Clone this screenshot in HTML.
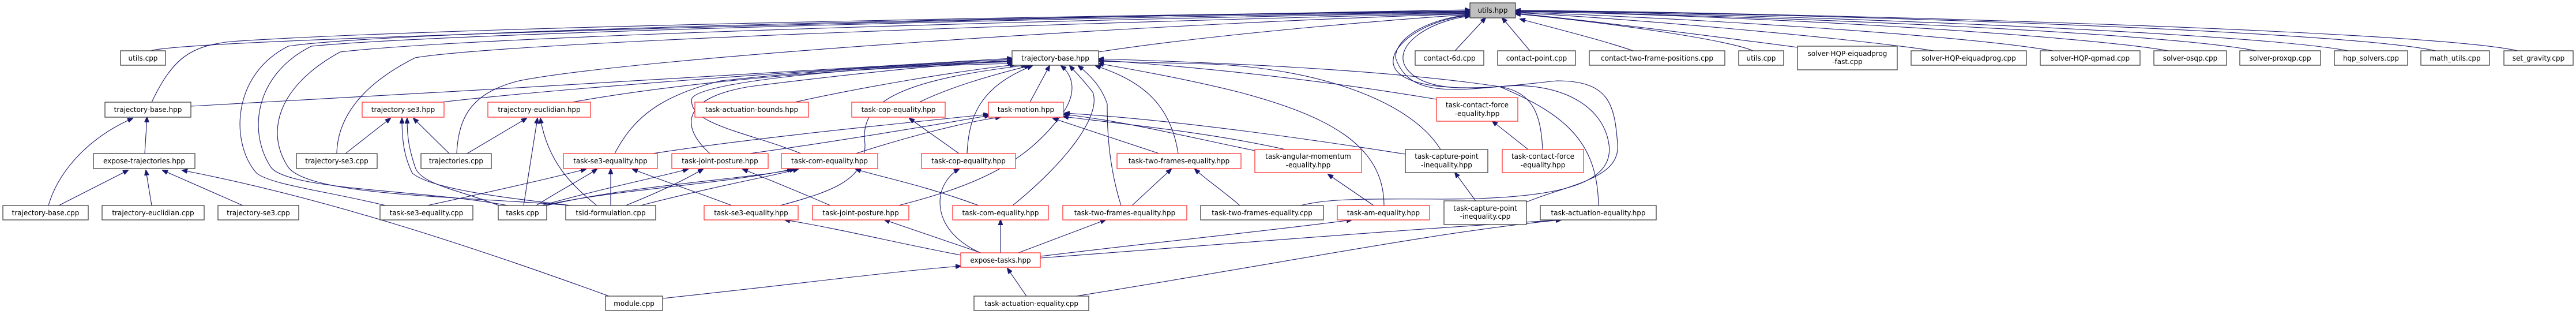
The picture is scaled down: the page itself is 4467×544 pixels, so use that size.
<!DOCTYPE html>
<html><head><meta charset="utf-8"><style>
html,body{margin:0;padding:0;background:#fff;}
svg{display:block;}
text{font-family:"DejaVu Sans","Liberation Sans",sans-serif;font-size:12px;fill:#000;}
.e{fill:none;stroke:#191970;stroke-width:1.1;marker-end:url(#ah);}
.k{fill:#fff;stroke:#404040;stroke-width:1.3;}
.r{fill:#fff;stroke:#ff3333;stroke-width:1.3;}
.g{fill:#bfbfbf;stroke:#404040;stroke-width:1.3;}
</style></head><body>
<svg width="4467" height="544" viewBox="0 0 4467 544" xmlns="http://www.w3.org/2000/svg">
<defs><marker id="ah" markerWidth="10" markerHeight="8" refX="9" refY="4" orient="auto" markerUnits="userSpaceOnUse"><path d="M0,0 L10,4 L0,8 Z" fill="#191970" stroke="#191970"/></marker></defs>
<g>
<!-- to utils.hpp -->
<path class="e" d="M262,88 C320,66 1800,30 2549,17"/>
<path class="e" d="M263,177 C300,100 330,80 400,72 C800,45 2000,25 2549,19"/>
<path class="e" d="M669,356 C560,330 470,320 445,300 C400,250 400,130 500,80 C700,50 2000,25 2549,20"/>
<path class="e" d="M880,356 C750,330 500,330 470,290 C430,230 440,130 540,80 C800,55 2000,27 2549,21"/>
<path class="e" d="M990,356 C800,340 540,340 500,290 C460,230 480,150 590,90 C850,60 2000,30 2549,22"/>
<path class="e" d="M584,266 C585,210 620,150 720,100 C900,70 2000,35 2549,23"/>
<path class="e" d="M792,266 C795,200 820,160 900,140 C1100,100 2000,40 2549,24"/>
<path class="e" d="M1905,90 C2100,60 2400,35 2549,25"/>
<path class="e" d="M2255,356 C2300,345 2350,344 2500,345 C2700,345 2800,320 2790,250 C2780,180 2700,140 2600,150 C2450,160 2400,130 2420,90 C2440,55 2500,30 2549,27"/>
<path class="e" d="M2647,350 C2720,320 2810,310 2805,250 C2800,180 2790,140 2700,140 C2600,150 2480,170 2440,120 C2410,80 2480,35 2549,28"/>
<path class="e" d="M2675,259 C2672,200 2660,160 2600,150 C2500,160 2440,160 2420,100 C2420,60 2490,30 2549,26"/>
<path class="e" d="M2523,88 L2576,31"/>
<path class="e" d="M2653,88 L2605,31"/>
<path class="e" d="M2832,88 C2780,70 2700,50 2636,33"/>
<path class="e" d="M3040,88 C3000,70 2800,40 2628,24"/>
<path class="e" d="M3117,82 C2950,60 2750,35 2628,23"/>
<path class="e" d="M3354,88 C3200,65 2800,30 2628,22"/>
<path class="e" d="M3560,88 C3400,60 2900,30 2628,21"/>
<path class="e" d="M3760,88 C3600,60 3000,25 2628,20"/>
<path class="e" d="M3912,88 C3750,55 3000,25 2628,20"/>
<path class="e" d="M4072,88 C3900,55 3000,22 2628,19"/>
<path class="e" d="M4224,88 C4050,50 3000,20 2628,19"/>
<path class="e" d="M4366,88 C4200,50 3000,20 2628,18"/>
<!-- to trajectory-base main -->
<path class="e" d="M331,184 C800,160 1400,120 1755,101"/>
<path class="e" d="M765,177 C1000,150 1500,115 1755,103"/>
<path class="e" d="M992,177 C1200,140 1500,115 1757,110"/>
<path class="e" d="M1378,177 C1500,150 1650,125 1760,112"/>
<path class="e" d="M1066,266 C1100,200 1150,165 1250,140 C1450,118 1650,110 1755,105"/>
<path class="e" d="M1231,266 C1180,220 1180,170 1300,150 C1500,125 1650,110 1755,106"/>
<path class="e" d="M1389,266 C1300,230 1190,215 1200,170 C1220,140 1500,115 1755,107"/>
<path class="e" d="M1353,356 C1450,330 1500,310 1500,250 C1490,180 1550,140 1780,113"/>
<path class="e" d="M1558,356 C1700,320 1780,280 1840,200 C1870,160 1860,130 1840,114"/>
<path class="e" d="M1756,356 C1850,280 1910,200 1895,160 C1880,140 1865,125 1855,114"/>
<path class="e" d="M1944,356 C1920,280 1920,210 1920,180 C1910,150 1890,130 1870,114"/>
<path class="e" d="M2043,266 C2030,180 1980,140 1900,114"/>
<path class="e" d="M1677,266 C1680,200 1700,150 1790,114"/>
<path class="e" d="M1594,177 C1650,150 1720,130 1785,114"/>
<path class="e" d="M1786,177 L1820,114"/>
<path class="e" d="M2400,356 C2400,250 2300,200 2150,160 C2050,135 1950,118 1905,110"/>
<path class="e" d="M2498,259 C2450,180 2300,120 2100,111 L1905,106"/>
<path class="e" d="M2491,172 C2300,140 2100,118 1905,104"/>
<path class="e" d="M2772,356 C2770,250 2720,200 2600,150 C2400,120 2100,108 1905,102"/>
<!-- to task-motion -->
<path class="e" d="M1132,266 C1300,240 1500,220 1714,198"/>
<path class="e" d="M1300,266 C1450,245 1600,220 1716,200"/>
<path class="e" d="M1484,266 C1580,235 1680,210 1735,203"/>
<path class="e" d="M2010,266 L1826,205"/>
<path class="e" d="M2229,259 C2100,230 1950,215 1844,202"/>
<path class="e" d="M2176,261 C2050,235 1950,210 1844,198"/>
<path class="e" d="M2437,267 C2200,230 2000,205 1846,196"/>
<!-- row links -->
<path class="e" d="M741,356 C860,330 950,310 1016,293"/>
<path class="e" d="M930,356 C970,330 1010,310 1035,293"/>
<path class="e" d="M1059,356 L1059,293"/>
<path class="e" d="M1269,356 C1200,330 1140,310 1097,293"/>
<path class="e" d="M939,356 C1050,325 1150,305 1193,293"/>
<path class="e" d="M1085,356 C1150,330 1190,310 1219,293"/>
<path class="e" d="M1440,356 C1380,330 1330,310 1288,293"/>
<path class="e" d="M944,356 C1050,330 1250,320 1374,293"/>
<path class="e" d="M948,356 C1100,320 1300,310 1378,293"/>
<path class="e" d="M1111,356 C1250,320 1340,305 1384,293"/>
<path class="e" d="M1697,356 C1600,320 1520,305 1484,293"/>
<path class="e" d="M1663,266 L1577,205"/>
<path class="e" d="M1963,356 L2031,293"/>
<path class="e" d="M2150,356 C2120,330 2090,310 2072,293"/>
<path class="e" d="M2382,356 L2303,302"/>
<path class="e" d="M2559,348 L2523,299"/>
<path class="e" d="M2650,259 L2588,210"/>
<!-- left -->
<path class="e" d="M251,266 L255,203"/>
<path class="e" d="M84,356 C100,300 150,240 230,205"/>
<path class="e" d="M102,356 L222,295"/>
<path class="e" d="M263,356 L253,295"/>
<path class="e" d="M421,356 L282,295"/>
<path class="e" d="M1056,513 C800,420 550,340 316,295"/>
<path class="e" d="M599,266 L677,205"/>
<path class="e" d="M779,266 L717,205"/>
<path class="e" d="M810,266 L913,205"/>
<path class="e" d="M908,356 L932,205"/>
<path class="e" d="M1035,356 C990,320 950,280 937,205"/>
<path class="e" d="M865,356 C800,330 730,320 720,290 C710,260 706,240 706,205"/>
<path class="e" d="M990,356 C900,345 750,330 715,300 C700,270 697,240 697,205"/>
<!-- expose-tasks -->
<path class="e" d="M1666,442 C1550,420 1450,395 1361,381"/>
<path class="e" d="M1701,438 L1534,381"/>
<path class="e" d="M1700,438 C1660,420 1630,390 1630,350 C1630,320 1650,300 1663,293"/>
<path class="e" d="M1735,438 L1735,381"/>
<path class="e" d="M1766,438 L1917,381"/>
<path class="e" d="M1804,444 C2000,420 2200,400 2344,381"/>
<path class="e" d="M1804,447 C2100,425 2400,400 2707,381"/>
<path class="e" d="M1149,517 C1400,490 1550,470 1666,461"/>
<path class="e" d="M1780,513 L1747,465"/>
<path class="e" d="M1866,513 C2200,460 2500,400 2707,381"/>
</g>
<g>
<!-- nodes -->
<rect class="g" x="2549" y="5" width="79" height="26"/><text x="2588.5" y="22" text-anchor="middle">utils.hpp</text>

<rect class="k" x="209" y="88" width="78" height="25"/><text x="248" y="105" text-anchor="middle">utils.cpp</text>
<rect class="k" x="1755" y="88" width="150" height="25"/><text x="1830" y="105" text-anchor="middle">trajectory-base.hpp</text>
<rect class="k" x="2454" y="88" width="119" height="25"/><text x="2513.5" y="105" text-anchor="middle">contact-6d.cpp</text>
<rect class="k" x="2597" y="88" width="135" height="25"/><text x="2664.5" y="105" text-anchor="middle">contact-point.cpp</text>
<rect class="k" x="2756" y="88" width="235" height="25"/><text x="2873.5" y="105" text-anchor="middle">contact-two-frame-positions.cpp</text>
<rect class="k" x="3015" y="88" width="78" height="25"/><text x="3054" y="105" text-anchor="middle">utils.cpp</text>
<rect class="k" x="3117" y="80" width="173" height="41"/><text x="3203.5" y="97" text-anchor="middle">solver-HQP-eiquadprog</text><text x="3203.5" y="111" text-anchor="middle">-fast.cpp</text>
<rect class="k" x="3314" y="88" width="200" height="25"/><text x="3414" y="105" text-anchor="middle">solver-HQP-eiquadprog.cpp</text>
<rect class="k" x="3538" y="88" width="173" height="25"/><text x="3624.5" y="105" text-anchor="middle">solver-HQP-qpmad.cpp</text>
<rect class="k" x="3735" y="88" width="126" height="25"/><text x="3798" y="105" text-anchor="middle">solver-osqp.cpp</text>
<rect class="k" x="3884" y="88" width="140" height="25"/><text x="3954" y="105" text-anchor="middle">solver-proxqp.cpp</text>
<rect class="k" x="4048" y="88" width="127" height="25"/><text x="4111.5" y="105" text-anchor="middle">hqp_solvers.cpp</text>
<rect class="k" x="4198" y="88" width="119" height="25"/><text x="4257.5" y="105" text-anchor="middle">math_utils.cpp</text>
<rect class="k" x="4342" y="88" width="120" height="25"/><text x="4402" y="105" text-anchor="middle">set_gravity.cpp</text>

<rect class="k" x="182" y="177" width="149" height="26"/><text x="256.5" y="194" text-anchor="middle">trajectory-base.hpp</text>
<rect class="r" x="628" y="177" width="142" height="26"/><text x="699" y="194" text-anchor="middle">trajectory-se3.hpp</text>
<rect class="r" x="846" y="177" width="178" height="26"/><text x="935" y="194" text-anchor="middle">trajectory-euclidian.hpp</text>
<rect class="r" x="1205" y="177" width="197" height="26"/><text x="1303.5" y="194" text-anchor="middle">task-actuation-bounds.hpp</text>
<rect class="r" x="1477" y="177" width="162" height="26"/><text x="1558" y="194" text-anchor="middle">task-cop-equality.hpp</text>
<rect class="r" x="1714" y="177" width="130" height="26"/><text x="1779" y="194" text-anchor="middle">task-motion.hpp</text>
<rect class="r" x="2491" y="169" width="141" height="41"/><text x="2561.5" y="186" text-anchor="middle">task-contact-force</text><text x="2561.5" y="201" text-anchor="middle">-equality.hpp</text>

<rect class="k" x="162" y="266" width="176" height="26"/><text x="250" y="283" text-anchor="middle">expose-trajectories.hpp</text>
<rect class="k" x="514" y="266" width="140" height="26"/><text x="584" y="283" text-anchor="middle">trajectory-se3.cpp</text>
<rect class="k" x="730" y="266" width="122" height="26"/><text x="791" y="283" text-anchor="middle">trajectories.cpp</text>
<rect class="r" x="977" y="266" width="163" height="26"/><text x="1058.5" y="283" text-anchor="middle">task-se3-equality.hpp</text>
<rect class="r" x="1165" y="266" width="167" height="26"/><text x="1248.5" y="283" text-anchor="middle">task-joint-posture.hpp</text>
<rect class="r" x="1355" y="266" width="167" height="26"/><text x="1438.5" y="283" text-anchor="middle">task-com-equality.hpp</text>
<rect class="r" x="1598" y="266" width="163" height="26"/><text x="1679.5" y="283" text-anchor="middle">task-cop-equality.hpp</text>
<rect class="r" x="1937" y="266" width="215" height="26"/><text x="2044.5" y="283" text-anchor="middle">task-two-frames-equality.hpp</text>
<rect class="r" x="2176" y="259" width="185" height="40"/><text x="2268.5" y="275" text-anchor="middle">task-angular-momentum</text><text x="2268.5" y="290" text-anchor="middle">-equality.hpp</text>
<rect class="k" x="2437" y="259" width="143" height="40"/><text x="2508.5" y="275" text-anchor="middle">task-capture-point</text><text x="2508.5" y="290" text-anchor="middle">-inequality.hpp</text>
<rect class="r" x="2605" y="259" width="141" height="40"/><text x="2675.5" y="275" text-anchor="middle">task-contact-force</text><text x="2675.5" y="290" text-anchor="middle">-equality.hpp</text>

<rect class="k" x="5" y="356" width="148" height="25"/><text x="79" y="373" text-anchor="middle">trajectory-base.cpp</text>
<rect class="k" x="177" y="356" width="177" height="25"/><text x="265.5" y="373" text-anchor="middle">trajectory-euclidian.cpp</text>
<rect class="k" x="378" y="356" width="140" height="25"/><text x="448" y="373" text-anchor="middle">trajectory-se3.cpp</text>
<rect class="k" x="659" y="356" width="161" height="25"/><text x="739.5" y="373" text-anchor="middle">task-se3-equality.cpp</text>
<rect class="k" x="864" y="356" width="84" height="25"/><text x="906" y="373" text-anchor="middle">tasks.cpp</text>
<rect class="k" x="981" y="356" width="156" height="25"/><text x="1059" y="373" text-anchor="middle">tsid-formulation.cpp</text>
<rect class="r" x="1221" y="356" width="163" height="25"/><text x="1302.5" y="373" text-anchor="middle">task-se3-equality.hpp</text>
<rect class="r" x="1409" y="356" width="167" height="25"/><text x="1492.5" y="373" text-anchor="middle">task-joint-posture.hpp</text>
<rect class="r" x="1652" y="356" width="166" height="25"/><text x="1735" y="373" text-anchor="middle">task-com-equality.hpp</text>
<rect class="r" x="1843" y="356" width="215" height="25"/><text x="1950.5" y="373" text-anchor="middle">task-two-frames-equality.hpp</text>
<rect class="k" x="2082" y="356" width="213" height="25"/><text x="2188.5" y="373" text-anchor="middle">task-two-frames-equality.cpp</text>
<rect class="r" x="2319" y="356" width="160" height="25"/><text x="2399" y="373" text-anchor="middle">task-am-equality.hpp</text>
<rect class="k" x="2504" y="348" width="143" height="41"/><text x="2575.5" y="365" text-anchor="middle">task-capture-point</text><text x="2575.5" y="379" text-anchor="middle">-inequality.cpp</text>
<rect class="k" x="2671" y="356" width="201" height="25"/><text x="2771.5" y="373" text-anchor="middle">task-actuation-equality.hpp</text>

<rect class="r" x="1666" y="438" width="138" height="25"/><text x="1735" y="455" text-anchor="middle">expose-tasks.hpp</text>
<rect class="k" x="1050" y="513" width="99" height="25"/><text x="1099.5" y="530" text-anchor="middle">module.cpp</text>
<rect class="k" x="1689" y="513" width="199" height="25"/><text x="1788.5" y="530" text-anchor="middle">task-actuation-equality.cpp</text>
</g>
</svg>
</body></html>
